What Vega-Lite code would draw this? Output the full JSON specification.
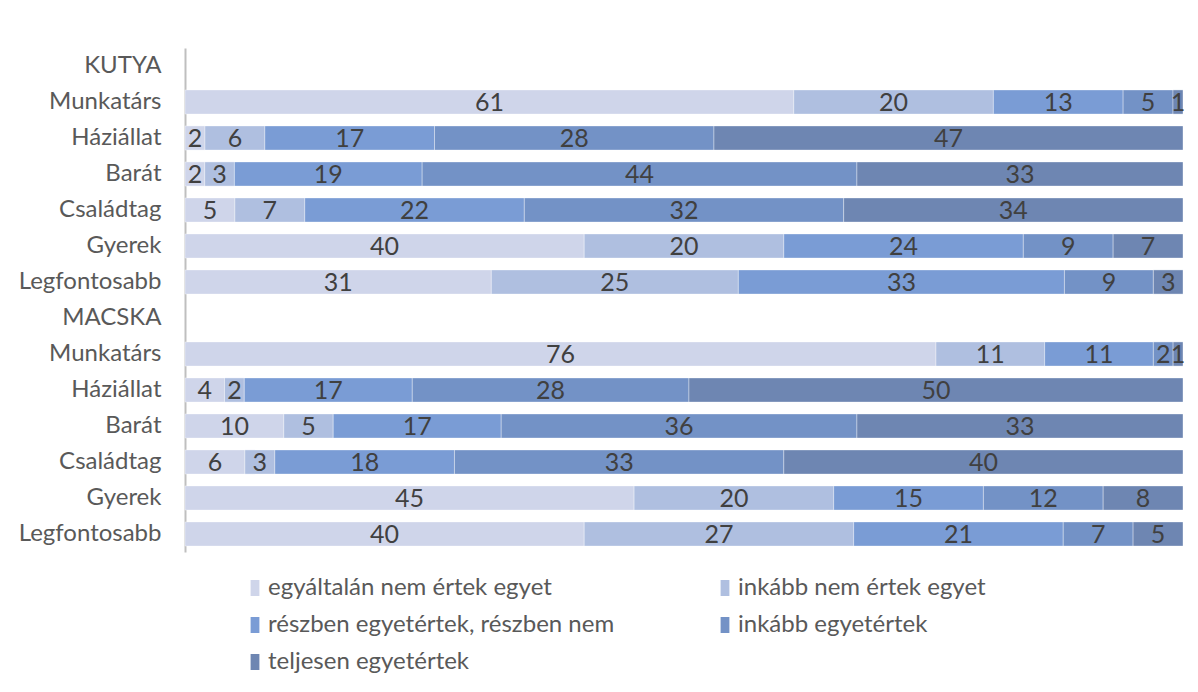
{
  "$schema": "https://vega.github.io/schema/vega-lite/v6.json",
  "autosize": "none",
  "width": 998,
  "height": 504,
  "padding": {"left": 185, "top": 48, "right": 15, "bottom": 140},
  "background": "white",
  "config": {"view": {"stroke": null}, "font": "Lato"},
  "data": {"values": [
    {"g": "Munkatárs|K", "k": 1, "r": "egyáltalán nem értek egyet", "v": 61},
    {"g": "Munkatárs|K", "k": 2, "r": "inkább nem értek egyet", "v": 20},
    {"g": "Munkatárs|K", "k": 3, "r": "részben egyetértek, részben nem", "v": 13},
    {"g": "Munkatárs|K", "k": 4, "r": "inkább egyetértek", "v": 5},
    {"g": "Munkatárs|K", "k": 5, "r": "teljesen egyetértek", "v": 1},
    {"g": "Háziállat|K", "k": 1, "r": "egyáltalán nem értek egyet", "v": 2},
    {"g": "Háziállat|K", "k": 2, "r": "inkább nem értek egyet", "v": 6},
    {"g": "Háziállat|K", "k": 3, "r": "részben egyetértek, részben nem", "v": 17},
    {"g": "Háziállat|K", "k": 4, "r": "inkább egyetértek", "v": 28},
    {"g": "Háziállat|K", "k": 5, "r": "teljesen egyetértek", "v": 47},
    {"g": "Barát|K", "k": 1, "r": "egyáltalán nem értek egyet", "v": 2},
    {"g": "Barát|K", "k": 2, "r": "inkább nem értek egyet", "v": 3},
    {"g": "Barát|K", "k": 3, "r": "részben egyetértek, részben nem", "v": 19},
    {"g": "Barát|K", "k": 4, "r": "inkább egyetértek", "v": 44},
    {"g": "Barát|K", "k": 5, "r": "teljesen egyetértek", "v": 33},
    {"g": "Családtag|K", "k": 1, "r": "egyáltalán nem értek egyet", "v": 5},
    {"g": "Családtag|K", "k": 2, "r": "inkább nem értek egyet", "v": 7},
    {"g": "Családtag|K", "k": 3, "r": "részben egyetértek, részben nem", "v": 22},
    {"g": "Családtag|K", "k": 4, "r": "inkább egyetértek", "v": 32},
    {"g": "Családtag|K", "k": 5, "r": "teljesen egyetértek", "v": 34},
    {"g": "Gyerek|K", "k": 1, "r": "egyáltalán nem értek egyet", "v": 40},
    {"g": "Gyerek|K", "k": 2, "r": "inkább nem értek egyet", "v": 20},
    {"g": "Gyerek|K", "k": 3, "r": "részben egyetértek, részben nem", "v": 24},
    {"g": "Gyerek|K", "k": 4, "r": "inkább egyetértek", "v": 9},
    {"g": "Gyerek|K", "k": 5, "r": "teljesen egyetértek", "v": 7},
    {"g": "Legfontosabb|K", "k": 1, "r": "egyáltalán nem értek egyet", "v": 31},
    {"g": "Legfontosabb|K", "k": 2, "r": "inkább nem értek egyet", "v": 25},
    {"g": "Legfontosabb|K", "k": 3, "r": "részben egyetértek, részben nem", "v": 33},
    {"g": "Legfontosabb|K", "k": 4, "r": "inkább egyetértek", "v": 9},
    {"g": "Legfontosabb|K", "k": 5, "r": "teljesen egyetértek", "v": 3},
    {"g": "Munkatárs|M", "k": 1, "r": "egyáltalán nem értek egyet", "v": 76},
    {"g": "Munkatárs|M", "k": 2, "r": "inkább nem értek egyet", "v": 11},
    {"g": "Munkatárs|M", "k": 3, "r": "részben egyetértek, részben nem", "v": 11},
    {"g": "Munkatárs|M", "k": 4, "r": "inkább egyetértek", "v": 2},
    {"g": "Munkatárs|M", "k": 5, "r": "teljesen egyetértek", "v": 1},
    {"g": "Háziállat|M", "k": 1, "r": "egyáltalán nem értek egyet", "v": 4},
    {"g": "Háziállat|M", "k": 2, "r": "inkább nem értek egyet", "v": 2},
    {"g": "Háziállat|M", "k": 3, "r": "részben egyetértek, részben nem", "v": 17},
    {"g": "Háziállat|M", "k": 4, "r": "inkább egyetértek", "v": 28},
    {"g": "Háziállat|M", "k": 5, "r": "teljesen egyetértek", "v": 50},
    {"g": "Barát|M", "k": 1, "r": "egyáltalán nem értek egyet", "v": 10},
    {"g": "Barát|M", "k": 2, "r": "inkább nem értek egyet", "v": 5},
    {"g": "Barát|M", "k": 3, "r": "részben egyetértek, részben nem", "v": 17},
    {"g": "Barát|M", "k": 4, "r": "inkább egyetértek", "v": 36},
    {"g": "Barát|M", "k": 5, "r": "teljesen egyetértek", "v": 33},
    {"g": "Családtag|M", "k": 1, "r": "egyáltalán nem értek egyet", "v": 6},
    {"g": "Családtag|M", "k": 2, "r": "inkább nem értek egyet", "v": 3},
    {"g": "Családtag|M", "k": 3, "r": "részben egyetértek, részben nem", "v": 18},
    {"g": "Családtag|M", "k": 4, "r": "inkább egyetértek", "v": 33},
    {"g": "Családtag|M", "k": 5, "r": "teljesen egyetértek", "v": 40},
    {"g": "Gyerek|M", "k": 1, "r": "egyáltalán nem értek egyet", "v": 45},
    {"g": "Gyerek|M", "k": 2, "r": "inkább nem értek egyet", "v": 20},
    {"g": "Gyerek|M", "k": 3, "r": "részben egyetértek, részben nem", "v": 15},
    {"g": "Gyerek|M", "k": 4, "r": "inkább egyetértek", "v": 12},
    {"g": "Gyerek|M", "k": 5, "r": "teljesen egyetértek", "v": 8},
    {"g": "Legfontosabb|M", "k": 1, "r": "egyáltalán nem értek egyet", "v": 40},
    {"g": "Legfontosabb|M", "k": 2, "r": "inkább nem értek egyet", "v": 27},
    {"g": "Legfontosabb|M", "k": 3, "r": "részben egyetértek, részben nem", "v": 21},
    {"g": "Legfontosabb|M", "k": 4, "r": "inkább egyetértek", "v": 7},
    {"g": "Legfontosabb|M", "k": 5, "r": "teljesen egyetértek", "v": 5}
  ]},
  "transform": [
    {"stack": "v", "groupby": ["g"], "sort": [{"field": "k", "order": "ascending"}], "offset": "normalize", "as": ["x0", "x1"]},
    {"calculate": "(datum.x0 + datum.x1) / 2", "as": "xm"}
  ],
  "encoding": {
    "y": {
      "field": "g",
      "type": "nominal",
      "scale": {
        "domain": ["KUTYA", "Munkatárs|K", "Háziállat|K", "Barát|K", "Családtag|K", "Gyerek|K", "Legfontosabb|K", "MACSKA", "Munkatárs|M", "Háziállat|M", "Barát|M", "Családtag|M", "Gyerek|M", "Legfontosabb|M"],
        "paddingInner": 0.33,
        "paddingOuter": 0.165
      },
      "axis": {
        "title": null,
        "ticks": false,
        "domainColor": "#BFBFBF",
        "domainWidth": 2,
        "labelFontSize": 24,
        "labelColor": "#595959",
        "labelPadding": 24,
        "labelFont": "Lato",
        "labelExpr": "split(datum.value, '|')[0]"
      }
    }
  },
  "layer": [
    {
      "mark": {"type": "bar", "stroke": "#FFFFFF", "strokeWidth": 0.6, "strokeOpacity": 0.6},
      "encoding": {
        "x": {"field": "x0", "type": "quantitative", "scale": {"domain": [0, 1], "nice": false, "zero": true}, "axis": null},
        "x2": {"field": "x1"},
        "color": {
          "field": "r",
          "type": "nominal",
          "scale": {
            "domain": ["egyáltalán nem értek egyet", "inkább nem értek egyet", "részben egyetértek, részben nem", "inkább egyetértek", "teljesen egyetértek"],
            "range": ["#CFD5EA", "#AFBFE0", "#7A9CD5", "#7392C6", "#6E86B2"]
          },
          "legend": {
            "title": null,
            "orient": "none",
            "direction": "horizontal",
            "legendX": 58,
            "legendY": 528,
            "columns": 2,
            "columnPadding": 98,
            "rowPadding": 13,
            "symbolType": "M-0.55,-1H0.55V1H-0.55Z",
            "symbolSize": 256,
            "symbolStrokeWidth": 0,
            "labelFontSize": 24,
            "labelColor": "#595959",
            "labelFont": "Lato",
            "labelOffset": 1,
            "labelLimit": 500
          }
        }
      }
    },
    {
      "mark": {"type": "text", "fontSize": 25, "color": "#404040", "font": "Lato", "baseline": "middle", "dy": 1},
      "encoding": {
        "x": {"field": "xm", "type": "quantitative"},
        "text": {"field": "v", "type": "quantitative"}
      }
    }
  ]
}
